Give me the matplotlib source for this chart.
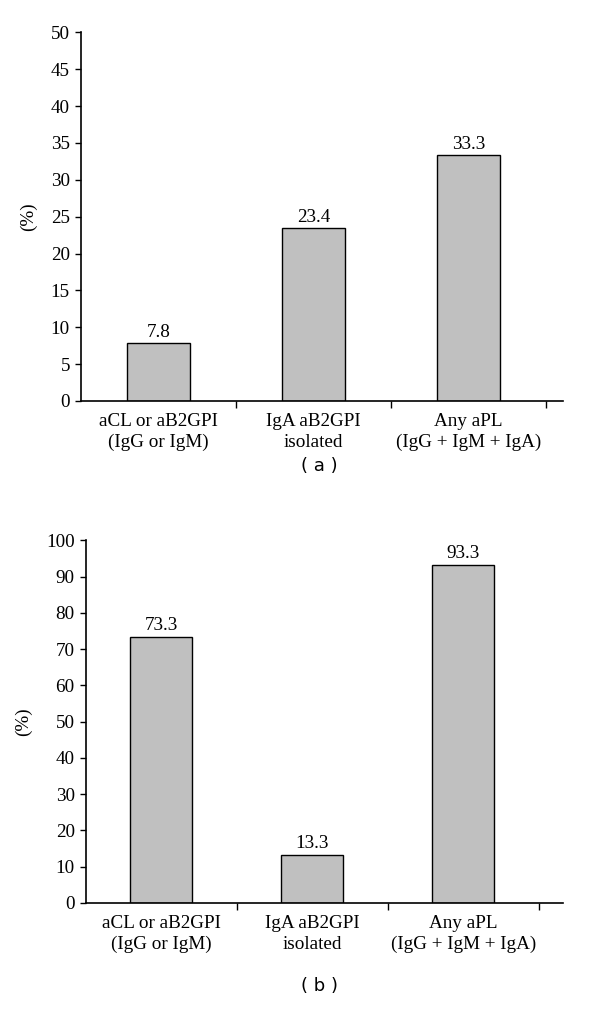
import matplotlib
matplotlib.use("Agg")
import matplotlib.pyplot as plt
from matplotlib.ticker import FixedLocator, NullFormatter

categories = ["aCL or aB2GPI\n(IgG or IgM)", "IgA aB2GPI\nisolated", "Any aPL\n(IgG + IgM + IgA)"]
values_a = [7.8, 23.4, 33.3]
values_b = [73.3, 13.3, 93.3]
yticks_a = [0, 5, 10, 15, 20, 25, 30, 35, 40, 45, 50]
yticks_b = [0, 10, 20, 30, 40, 50, 60, 70, 80, 90, 100]
panel_labels = ["( a )", "( b )"]

plt.rcParams['font.family'] = ['Liberation Serif', 'DejaVu Serif']

fig = plt.figure(figsize=(6.0, 10.1), dpi=100)
FS = 13.8

def draw(rect, values, yticks, xmax, panel, label_y):
    ax = fig.add_axes(rect)
    x = list(range(len(categories)))
    bars = ax.bar(x, values, width=0.41, color="#c0c0c0", edgecolor="black", linewidth=1.0, zorder=2)
    ax.set_xlim(-0.5, xmax)
    ax.set_ylim(yticks[0], yticks[-1])
    ax.set_yticks(yticks)
    ax.tick_params(axis='y', direction='out', length=4, width=1, labelsize=FS, pad=4)
    ax.set_xticks(x)
    ax.set_xticklabels(categories, fontsize=FS, linespacing=1.25)
    ax.tick_params(axis='x', which='major', length=0, pad=9)
    ax.xaxis.set_minor_locator(FixedLocator([0.5, 1.5, 2.5]))
    ax.xaxis.set_minor_formatter(NullFormatter())
    ax.tick_params(axis='x', which='minor', direction='out', length=5, width=1)
    for s in ['top', 'right']:
        ax.spines[s].set_visible(False)
    for s in ['left', 'bottom']:
        ax.spines[s].set_linewidth(1.2)
    ax.set_ylabel("(%)", fontsize=FS, labelpad=10)
    for b, v in zip(bars, values):
        ax.annotate(f"{v}", (b.get_x() + b.get_width() / 2, v), xytext=(0, 2),
                    textcoords="offset points", ha="center", va="bottom", fontsize=FS)
    fig.text(0.533, label_y, panel, ha="center", va="center", fontsize=13, family="DejaVu Sans")
    return ax

draw([0.135, 0.603, 0.803, 0.365], values_a, yticks_a, 2.61, panel_labels[0], 1 - 466 / 1010)
draw([0.143, 0.106, 0.795, 0.359], values_b, yticks_b, 2.66, panel_labels[1], 1 - 986 / 1010)

fig.savefig("out.png", dpi=100)
